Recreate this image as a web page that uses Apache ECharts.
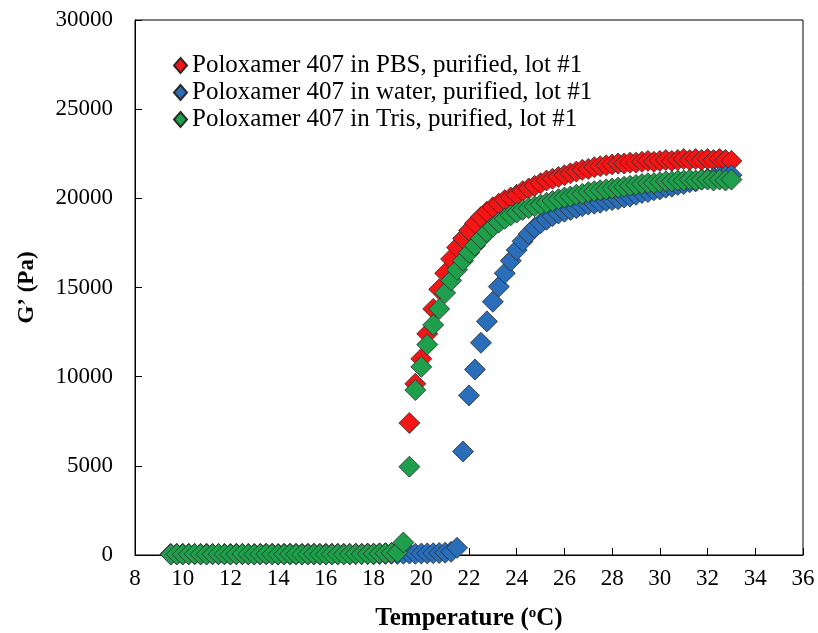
<!DOCTYPE html>
<html>
<head>
<meta charset="utf-8">
<script src="https://cdn.jsdelivr.net/npm/echarts@6/dist/echarts.min.js"></script>
<style>html,body{margin:0;padding:0;background:#fff;}#chart{width:818px;height:633px;}</style>
</head>
<body>
<div id="chart"></div>
<script>
var temperature = [9.5,9.75,10,10.25,10.5,10.75,11,11.25,11.5,11.75,12,12.25,12.5,12.75,13,13.25,13.5,13.75,14,14.25,14.5,14.75,15,15.25,15.5,15.75,16,16.25,16.5,16.75,17,17.25,17.5,17.75,18,18.25,18.5,18.75,19,19.25,19.5,19.75,20,20.25,20.5,20.75,21,21.25,21.5,21.75,22,22.25,22.5,22.75,23,23.25,23.5,23.75,24,24.25,24.5,24.75,25,25.25,25.5,25.75,26,26.25,26.5,26.75,27,27.25,27.5,27.75,28,28.25,28.5,28.75,29,29.25,29.5,29.75,30,30.25,30.5,30.75,31,31.25,31.5,31.75,32,32.25,32.5,32.75,33];
var gPBS = [60,50,70,60,50,60,70,50,60,50,60,70,50,60,50,60,70,60,50,60,70,60,50,60,70,50,60,70,60,50,60,70,60,80,70,90,100,120,150,350,7400,9600,11000,12400,13800,14900,15800,16600,17250,17750,18200,18600,18950,19250,19500,19700,19900,20050,20200,20400,20550,20700,20850,21000,21100,21200,21300,21400,21500,21600,21650,21750,21800,21850,21900,21950,21950,22000,22000,22050,22100,22050,22100,22150,22100,22150,22200,22150,22200,22150,22200,22150,22200,22150,22100];
var gWater = [40,50,40,60,50,40,50,60,40,50,40,50,60,40,50,40,50,60,40,50,40,50,60,50,40,50,60,40,50,60,40,50,60,50,40,50,60,70,60,70,80,70,80,90,100,110,130,180,400,5800,8950,10400,11900,13100,14200,15050,15800,16500,17100,17600,18000,18350,18600,18800,19000,19150,19250,19350,19450,19550,19650,19700,19750,19850,19900,19950,20050,20100,20200,20300,20350,20450,20500,20600,20650,20750,20800,20900,20950,21050,21100,21150,21200,21250,21300];
var gTris = [30,40,30,40,50,40,30,40,50,40,30,40,50,40,30,40,50,40,30,40,50,40,30,40,50,40,30,40,50,40,50,60,50,60,70,80,90,110,150,700,4950,9250,10550,11800,12900,13800,14700,15400,16000,16500,16950,17350,17750,18100,18400,18650,18850,19050,19200,19350,19450,19550,19650,19750,19850,19950,20050,20100,20200,20250,20350,20400,20450,20500,20550,20600,20650,20700,20750,20800,20850,20850,20900,20950,20950,21000,21000,21050,21000,21050,21050,21000,21050,21000,21050];
var seriesNames = ['Poloxamer 407 in PBS, purified, lot #1','Poloxamer 407 in water, purified, lot #1','Poloxamer 407 in Tris, purified, lot #1'];
var seriesColors = ['#f21616','#2a6db8','#1f9e4b'];
var seriesValues = [gPBS, gWater, gTris];

var FONT = "'Liberation Serif','Times New Roman',serif";
var chart = echarts.init(document.getElementById('chart'));
var series = seriesValues.map(function (vals, k) {
  return {
    name: seriesNames[k],
    type: 'scatter',
    symbol: 'diamond',
    symbolSize: 21,
    data: temperature.map(function (t, i) { return [t, vals[i]]; }),
    itemStyle: { color: seriesColors[k], borderColor: '#2b2b2b', borderWidth: 0.8, opacity: 1 },
    emphasis: { disabled: true },
    z: 2 + k
  };
});
chart.setOption({
  animation: false,
  backgroundColor: '#fff',
  grid: { left: 135, right: 15, top: 20, bottom: 78, show: true, borderColor: '#000', borderWidth: 1, backgroundColor: 'transparent', outerBoundsMode: 'none', containLabel: false },
  legend: {
    orient: 'vertical', left: 168, top: 48, itemGap: 2,
    itemWidth: 13, itemHeight: 15, icon: 'diamond',
    textStyle: { fontFamily: FONT, fontSize: 25, color: '#000', lineHeight: 25 },
    data: seriesNames
  },
  xAxis: {
    type: 'value', min: 8, max: 36, interval: 2,
    name: 'Temperature ({s|o}C)', nameLocation: 'middle', nameGap: 51,
    nameTextStyle: { fontFamily: FONT, fontSize: 25, fontWeight: 'bold', color: '#000',
      rich: { s: { fontFamily: FONT, fontSize: 15, fontWeight: 'bold', color: '#000', verticalAlign: 'top', padding: [0, 0, 11, 0] } } },
    axisLine: { show: true, lineStyle: { color: '#000', width: 1 } },
    axisTick: { show: true, inside: true, length: 7, lineStyle: { color: '#000' } },
    axisLabel: { fontFamily: FONT, fontSize: 23, color: '#000', margin: 12 },
    splitLine: { show: false }
  },
  yAxis: {
    type: 'value', min: 0, max: 30000, interval: 5000,
    name: "G\u2019 (Pa)", nameLocation: 'middle', nameGap: 96, nameRotate: 90,
    nameTextStyle: { fontFamily: FONT, fontSize: 23, fontWeight: 'bold', color: '#000' },
    axisLine: { show: true, lineStyle: { color: '#000', width: 1 } },
    axisTick: { show: true, inside: true, length: 7, lineStyle: { color: '#000' } },
    axisLabel: { fontFamily: FONT, fontSize: 23, color: '#000', margin: 22, formatter: function (v) { return String(v); } },
    splitLine: { show: false }
  },
  series: series
});
</script>
</body>
</html>
